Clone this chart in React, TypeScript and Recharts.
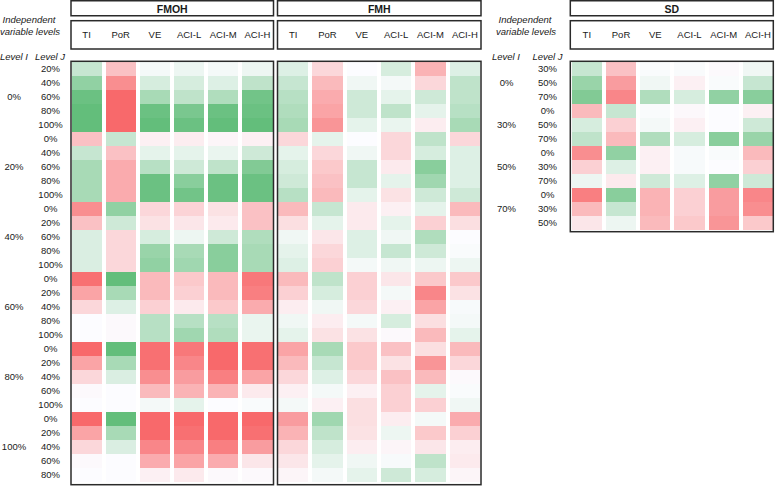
import React from 'react';
import { BarChart, Bar, XAxis, YAxis } from 'recharts';

const COLUMNS = ['TI', 'PoR', 'VE', 'ACI-L', 'ACI-M', 'ACI-H'];
const FONT = '"Liberation Sans", Arial, Helvetica, sans-serif';

// ---------- categories ----------
const FM_LEVEL_I = ['0%', '20%', '40%', '60%', '80%', '100%'];
const FM_LEVEL_J = [
  ['20%', '40%', '60%', '80%', '100%'],
  ['0%', '40%', '60%', '80%', '100%'],
  ['0%', '20%', '60%', '80%', '100%'],
  ['0%', '20%', '40%', '80%', '100%'],
  ['0%', '20%', '40%', '60%', '100%'],
  ['0%', '20%', '40%', '60%', '80%'],
];
const SD_LEVEL_I = ['0%', '30%', '50%', '70%'];
const SD_LEVEL_J = [
  ['30%', '50%', '70%'],
  ['0%', '50%', '70%'],
  ['0%', '30%', '70%'],
  ['0%', '30%', '50%'],
];

// ---------- values (positive = green, negative = red) ----------
const FMOH_TI = [0.35, 0.7, 0.95, 1, 1, -0.4, 0.35, 0.55, 0.55, 0.55, -0.75, -0.4, 0.22, 0.22, 0.22, -0.95, -0.6, -0.25, 0, 0, -1, -0.6, -0.25, -0.02, 0, -1, -0.6, -0.25, -0.02, 0];
const FMOH_POR = [-0.4, -0.75, -1, -1, -1, 0.35, -0.4, -0.55, -0.55, -0.55, 0.7, 0.3, -0.25, -0.25, -0.25, 1, 0.55, 0.2, -0.02, -0.02, 1, 0.55, 0.22, 0, 0, 1, 0.55, 0.22, 0, 0];
const FMOH_VE = [0.05, 0.25, 0.55, 0.95, 1, -0.08, 0.15, 0.45, 0.95, 0.95, -0.25, -0.18, 0.25, 0.65, 0.7, -0.45, -0.45, -0.3, 0.45, 0.45, -0.95, -0.95, -0.75, -0.45, 0.05, -1, -1, -0.8, -0.55, -0.08];
const FMOH_ACIL = [0.1, 0.25, 0.4, 0.85, 0.95, -0.1, 0.15, 0.3, 0.75, 0.9, -0.28, -0.15, 0.1, 0.55, 0.6, -0.35, -0.3, -0.12, 0.45, 0.6, -0.9, -0.8, -0.65, -0.5, 0.15, -1, -0.95, -0.8, -0.6, -0.12];
const FMOH_ACIM = [0.05, 0.2, 0.5, 0.95, 1, -0.05, 0.12, 0.4, 0.95, 0.95, -0.18, -0.12, 0.3, 0.75, 0.75, -0.45, -0.45, -0.35, 0.45, 0.5, -1, -1, -0.85, -0.5, 0, -1, -1, -0.85, -0.55, -0.02];
const FMOH_ACIH = [0.1, 0.4, 0.9, 0.95, 1, -0.08, 0.3, 0.8, 0.95, 0.95, -0.4, -0.4, 0.5, 0.55, 0.55, -0.9, -0.85, -0.55, 0.12, 0.12, -0.95, -0.95, -0.6, -0.12, 0.02, -1, -0.95, -0.65, -0.15, -0.02];

const FMH_TI = [0.2, 0.35, 0.45, 0.5, 0.55, -0.25, 0.15, 0.25, 0.3, 0.45, -0.45, -0.2, 0.08, 0.15, 0.2, -0.45, -0.3, -0.1, 0.08, 0.15, -0.6, -0.45, -0.25, -0.08, 0.05, -0.65, -0.5, -0.25, -0.15, -0.05];
const FMH_POR = [-0.25, -0.45, -0.55, -0.6, -0.7, 0.15, -0.25, -0.35, -0.4, -0.45, 0.35, 0.15, -0.15, -0.25, -0.3, 0.4, 0.25, 0.08, -0.1, -0.18, 0.55, 0.35, 0.2, 0.05, -0.08, 0.6, 0.4, 0.25, 0.15, 0.05];
const FMH_VE = [0, 0.08, 0.3, 0.3, 0.15, 0, 0.08, 0.35, 0.35, 0.15, -0.12, -0.12, 0.2, 0.2, 0.05, -0.3, -0.3, -0.25, 0.05, -0.18, -0.35, -0.35, -0.25, -0.08, -0.2, -0.2, -0.18, -0.1, 0.08, 0.15];
const FMH_ACIL = [0.25, 0.05, 0.15, 0.4, 0.12, -0.25, -0.25, -0.12, 0.15, -0.18, -0.08, 0.15, 0.08, 0.35, 0.08, -0.15, 0.05, -0.08, 0.25, -0.02, -0.4, -0.18, -0.4, -0.3, -0.3, -0.1, 0.1, -0.05, 0.03, 0.3];
const FMH_ACIM = [-0.5, -0.25, 0.3, 0.15, -0.1, 0.4, 0.25, 0.75, 0.6, 0.3, 0.15, -0.3, 0.5, 0.3, 0.1, -0.35, -0.8, -0.6, -0.2, -0.45, -0.2, -0.7, -0.45, 0.15, -0.3, 0.05, -0.35, -0.15, 0.4, 0.25];
const FMH_ACIH = [0.2, 0.4, 0.4, 0.45, 0.55, -0.25, 0.2, 0.2, 0.2, 0.3, -0.45, -0.2, 0, 0.02, 0.1, -0.35, -0.18, 0.03, 0.05, 0.15, -0.45, -0.25, -0.02, 0.02, 0.08, -0.55, -0.3, -0.1, -0.12, -0.05];

const SD_TI = [0.35, 0.65, 0.8, -0.45, 0.25, 0.4, -0.75, -0.3, 0.1, -0.85, -0.45, -0.15];
const SD_POR = [-0.4, -0.65, -0.8, 0.35, -0.3, -0.45, 0.7, 0.2, -0.12, 0.75, 0.35, 0.1];
const SD_VE = [0.02, 0.08, 0.5, 0.02, 0.05, 0.5, -0.08, -0.08, 0.3, -0.5, -0.5, -0.45];
const SD_ACIL = [0.02, -0.08, 0.25, -0.03, -0.08, 0.25, 0.03, 0.03, 0.2, -0.3, -0.3, -0.35];
const SD_ACIM = [-0.02, 0.02, 0.7, 0, 0, 0.75, 0.02, 0, 0.7, -0.65, -0.65, -0.7];
const SD_ACIH = [0.08, 0.35, 0.75, -0.08, 0.3, 0.65, -0.45, -0.3, 0.3, -0.8, -0.75, -0.35];

// ---------- colour scale ----------
const WHITE = [252, 252, 255];
const GREEN = [99, 190, 123];
const RED = [248, 105, 107];
function cellColor(v: number): string {
  const t = Math.min(1, Math.abs(v));
  const end = v >= 0 ? GREEN : RED;
  const c = WHITE.map((w, k) => Math.round(w + (end[k] - w) * t));
  return `rgb(${c[0]},${c[1]},${c[2]})`;
}

type Row = { [k: string]: any };

function buildRows(levelI: string[], levelJ: string[][], cols: number[][]): Row[] {
  const rows: Row[] = [];
  let idx = 0;
  levelI.forEach((li, b) => {
    const js = levelJ[b];
    const mid = Math.floor(js.length / 2);
    js.forEach((lj, k) => {
      const r: Row = { key: `${b}-${k}`, j: lj, i: k === mid ? li : '' };
      cols.forEach((arr, c) => {
        r[`v${c}`] = arr[idx];
        r[`u${c}`] = 1;
      });
      rows.push(r);
      idx += 1;
    });
  });
  return rows;
}

const FMOH_ROWS = buildRows(FM_LEVEL_I, FM_LEVEL_J, [FMOH_TI, FMOH_POR, FMOH_VE, FMOH_ACIL, FMOH_ACIM, FMOH_ACIH]);
const FMH_ROWS = buildRows(FM_LEVEL_I, FM_LEVEL_J, [FMH_TI, FMH_POR, FMH_VE, FMH_ACIL, FMH_ACIM, FMH_ACIH]);
const SD_ROWS = buildRows(SD_LEVEL_I, SD_LEVEL_J, [SD_TI, SD_POR, SD_VE, SD_ACIL, SD_ACIM, SD_ACIH]);

const COL_TICKS = [0.5, 1.5, 2.5, 3.5, 4.5, 5.5];
const TEXT = '#1a1a1a';

type PanelProps = {
  left: number;
  yAxisWidth: number;
  plotWidth: number;
  rows: Row[];
  showAxis: boolean;
  iX: number;
  jX: number;
};

function Panel({ left, yAxisWidth, plotWidth, rows, showAxis, iX, jX }: PanelProps) {
  const plotTop = 62;
  const rowH = 14;
  const height = plotTop + rows.length * rowH + 2;
  const width = yAxisWidth + plotWidth + 1;
  const byKey: { [k: string]: Row } = {};
  rows.forEach((r) => (byKey[r.key] = r));

  const headerTick = (p: any) => (
    <text x={p.x} y={38} textAnchor="middle" fontFamily={FONT} fontSize={9.5} fill={TEXT}>
      {COLUMNS[Math.floor(p.payload.value)]}
    </text>
  );
  const rowTick = (p: any) => {
    const r = byKey[p.payload.value];
    if (!r) return <g />;
    return (
      <g>
        <text x={p.x + jX} y={p.y} dy="0.36em" textAnchor="middle" fontFamily={FONT} fontSize={9.5} fill={TEXT}>
          {r.j}
        </text>
        {r.i ? (
          <text x={p.x + iX} y={p.y} dy="0.36em" textAnchor="middle" fontFamily={FONT} fontSize={9.5} fill={TEXT}>
            {r.i}
          </text>
        ) : null}
      </g>
    );
  };
  const cellShape = (ci: number) => (p: any) => {
    const v = p.payload ? p.payload[`v${ci}`] : 0;
    return (
      <rect
        x={p.x + 2}
        y={p.y}
        width={Math.max(0, p.width - 4)}
        height={p.height}
        fill={cellColor(v)}
        shapeRendering="crispEdges"
      />
    );
  };

  return (
    <div style={{ position: 'absolute', left, top: 0 }}>
      <BarChart
        width={width}
        height={height}
        data={rows}
        layout="vertical"
        margin={{ top: 0, right: 1, bottom: 2, left: 0 }}
        barCategoryGap={0}
        barGap={0}
      >
        <XAxis
          type="number"
          domain={[0, 6]}
          orientation="top"
          height={plotTop}
          ticks={COL_TICKS}
          interval={0}
          axisLine={false}
          tickLine={false}
          tickSize={0}
          tick={headerTick}
        />
        <YAxis
          type="category"
          dataKey="key"
          width={yAxisWidth}
          hide={!showAxis}
          axisLine={false}
          tickLine={false}
          tickSize={0}
          tickMargin={0}
          interval={0}
          tick={rowTick}
        />
        {COLUMNS.map((c, ci) => (
          <Bar key={c} dataKey={`u${ci}`} stackId="s" isAnimationActive={false} shape={cellShape(ci)} />
        ))}
      </BarChart>
    </div>
  );
}

const BOX = '#2a2a2a';

function Frame({ x0, x1, title, bottom }: { x0: number; x1: number; title: string; bottom: number }) {
  const w = x1 - x0;
  return (
    <g fill="none" stroke={BOX} strokeWidth={1.5}>
      <rect x={x0} y={0.75} width={w} height={15} />
      <rect x={x0} y={20.7} width={w} height={28.3} />
      <rect x={x0} y={61.3} width={w} height={bottom - 61.3} />
      <text
        x={(x0 + x1) / 2}
        y={12.8}
        textAnchor="middle"
        fontFamily={FONT}
        fontSize={10.5}
        fontWeight="bold"
        fill={TEXT}
        stroke="none"
      >
        {title}
      </text>
    </g>
  );
}

function SideHeader({ cx, ix, jx }: { cx: number; ix: number; jx: number }) {
  const common = { fontFamily: FONT, fontSize: 9.5, fontStyle: 'italic' as const, fill: TEXT, textAnchor: 'middle' as const };
  return (
    <g>
      <text x={cx} y={22.5} {...common}>Independent</text>
      <text x={cx + 1} y={35} {...common}>variable levels</text>
      <text x={ix} y={60} {...common}>Level I</text>
      <text x={jx} y={60} {...common}>Level J</text>
    </g>
  );
}

export default function App() {
  return (
    <div style={{ position: 'absolute', left: 0, top: 0, width: 775, height: 486, background: '#fff', overflow: 'hidden' }}>
      <Panel left={0} yAxisWidth={69.5} plotWidth={205} rows={FMOH_ROWS} showAxis iX={-55.5} jX={-19} />
      <Panel left={276.3} yAxisWidth={0} plotWidth={206} rows={FMH_ROWS} showAxis={false} iX={0} jX={0} />
      <Panel left={485} yAxisWidth={84.7} plotWidth={205.3} rows={SD_ROWS} showAxis iX={-63.2} jX={-22.2} />
      <svg width={775} height={486} style={{ position: 'absolute', left: 0, top: 0, pointerEvents: 'none' }}>
        <Frame x0={71} x1={273.5} title="FMOH" bottom={484.7} />
        <Frame x0={277.5} x1={481} title="FMH" bottom={484.7} />
        <Frame x0={570.3} x1={773.3} title="SD" bottom={231.7} />
        <SideHeader cx={29} ix={14} jx={50} />
        <SideHeader cx={525} ix={506} jx={547.5} />
      </svg>
    </div>
  );
}
